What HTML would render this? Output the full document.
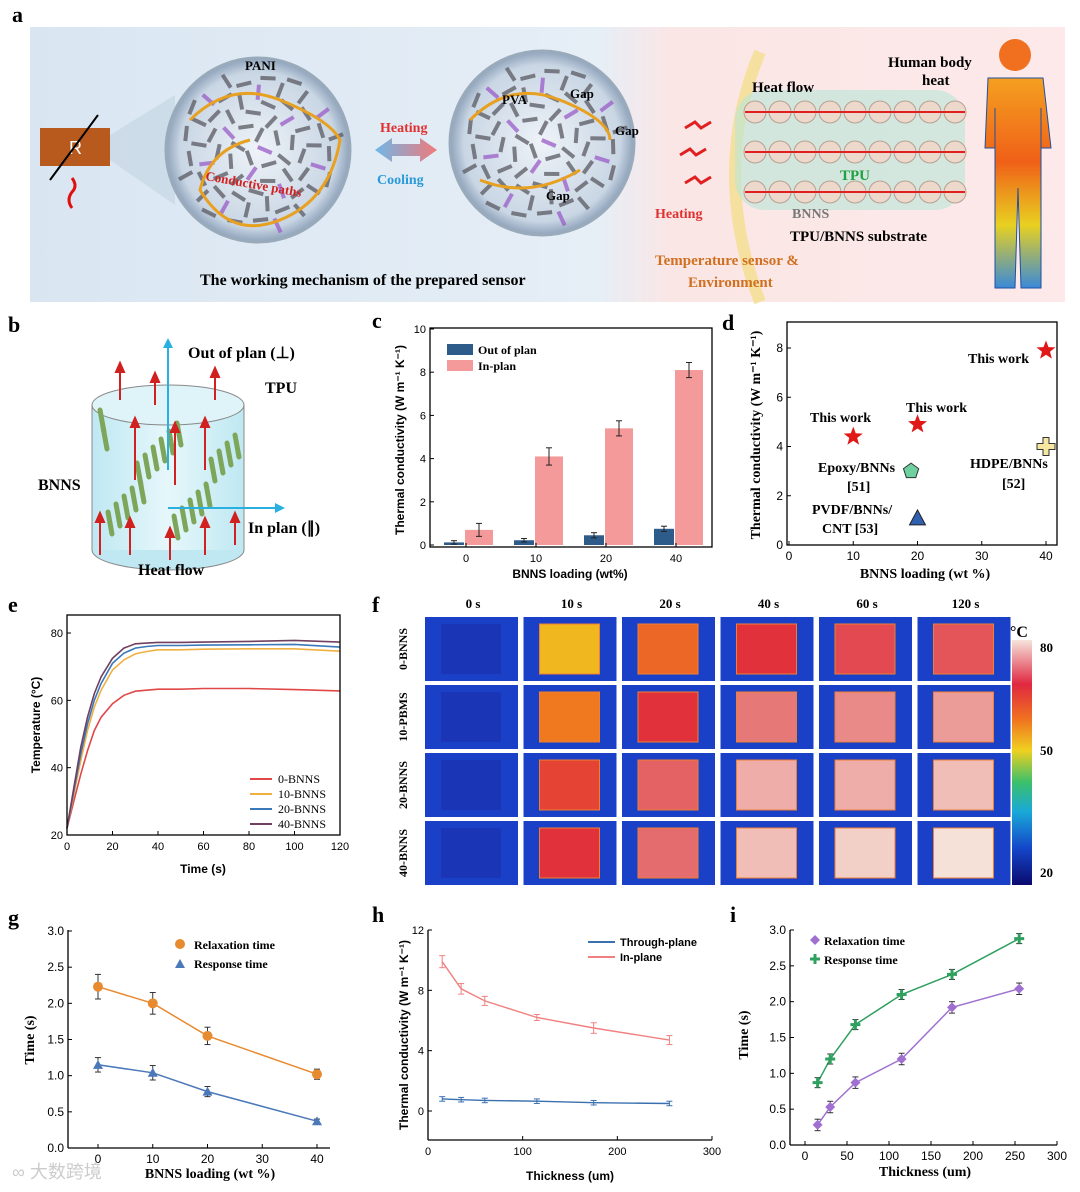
<!DOCTYPE html>
<html><head><meta charset="utf-8">
<style>
html,body{margin:0;padding:0;background:#fff;}
svg{display:block;font-family:"Liberation Sans",sans-serif;}
.ser{font-family:"Liberation Serif",serif;}
</style></head>
<body>
<svg id="fig" width="1080" height="1192" viewBox="0 0 1080 1192" xmlns="http://www.w3.org/2000/svg">
<defs>
<linearGradient id="bgA" x1="0" x2="1"><stop offset="0" stop-color="#d9e6f2"/><stop offset="0.55" stop-color="#e6eef6"/><stop offset="0.62" stop-color="#fbe6e6"/><stop offset="1" stop-color="#fde9e9"/></linearGradient>
<radialGradient id="circ"><stop offset="0" stop-color="#eef3f8"/><stop offset="0.85" stop-color="#c9d6e4"/><stop offset="1" stop-color="#8fa3bb"/></radialGradient>
<linearGradient id="arrG" x1="0" x2="1"><stop offset="0" stop-color="#6fb7e8"/><stop offset="1" stop-color="#f07a7a"/></linearGradient>
<linearGradient id="cbar" x1="0" y1="1" x2="0" y2="0"><stop offset="0" stop-color="#0a0a6e"/><stop offset="0.15" stop-color="#1446c8"/><stop offset="0.3" stop-color="#19a9d8"/><stop offset="0.42" stop-color="#3cc06a"/><stop offset="0.55" stop-color="#f0d020"/><stop offset="0.68" stop-color="#f07020"/><stop offset="0.82" stop-color="#e02840"/><stop offset="1" stop-color="#f6e4dc"/></linearGradient>
<linearGradient id="body" x1="0" y1="0" x2="0" y2="1"><stop offset="0" stop-color="#f4a020"/><stop offset="0.4" stop-color="#f06018"/><stop offset="0.7" stop-color="#e8d020"/><stop offset="1" stop-color="#3a8ad8"/></linearGradient>
<linearGradient id="cyl" x1="0" x2="1"><stop offset="0" stop-color="#bfe8f2"/><stop offset="0.5" stop-color="#e6f7fb"/><stop offset="1" stop-color="#bfe8f2"/></linearGradient>
</defs>

<!-- Panel a -->
<g>
<text x="12" y="22" font-size="22" font-weight="bold" class="ser">a</text>
<rect x="30" y="27" width="1035" height="275" fill="url(#bgA)"/>
<rect x="40" y="128" width="70" height="38" fill="#b85a1e"/>
<text x="69" y="154" font-size="18" fill="#fff">R</text>
<line x1="50" y1="180" x2="98" y2="115" stroke="#000" stroke-width="2"/>
<path d="M72 178 q6 8 0 14 q-6 8 0 16" stroke="#e01010" stroke-width="3" fill="none"/>
<polygon points="110,135 175,95 175,205 110,160" fill="#c9d8e6" opacity="0.8"/>
<circle cx="258" cy="150" r="92" fill="url(#circ)" stroke="#9ab" stroke-width="3"/>
<g id="flakes1"></g>
<path d="M190 120 q40 -40 90 -20 t60 40 q-10 60 -60 80 t-80 -30 q10 -40 50 -50" stroke="#e8a020" stroke-width="3" fill="none"/>
<text x="245" y="70" font-size="13" font-weight="bold" class="ser">PANI</text>
<text x="205" y="180" font-size="13" font-weight="bold" fill="#d02020" class="ser" transform="rotate(10 205 180)">Conductive paths</text>
<circle cx="542" cy="143" r="92" fill="url(#circ)" stroke="#9ab" stroke-width="3"/>
<g id="flakes2"></g>
<path d="M470 120 q40 -40 90 -20 t50 40 M480 180 q50 20 100 -10" stroke="#e8a020" stroke-width="3" fill="none"/>
<text x="502" y="104" font-size="13" font-weight="bold" class="ser">PVA</text>
<text x="570" y="98" font-size="13" font-weight="bold" class="ser">Gap</text>
<text x="615" y="135" font-size="13" font-weight="bold" class="ser">Gap</text>
<text x="546" y="200" font-size="13" font-weight="bold" class="ser">Gap</text>
<polygon points="375,150 392,138 392,144 420,144 420,138 437,150 420,162 420,156 392,156 392,162" fill="url(#arrG)"/>
<text x="380" y="132" font-size="14" font-weight="bold" fill="#e03030" class="ser">Heating</text>
<text x="377" y="184" font-size="14" font-weight="bold" fill="#2a9ad8" class="ser">Cooling</text>
<text x="200" y="285" font-size="16" font-weight="bold" class="ser">The working mechanism of the prepared sensor</text>
<path d="M760 52 q-50 120 0 250" stroke="#f5e0a0" stroke-width="12" fill="none"/>
<rect x="735" y="90" width="230" height="120" rx="30" fill="#b8e6d8" opacity="0.6"/>
<g fill="#ecd9cc" stroke="#b8a090">
<circle cx="755" cy="112" r="11"/><circle cx="780" cy="112" r="11"/><circle cx="805" cy="112" r="11"/><circle cx="830" cy="112" r="11"/><circle cx="855" cy="112" r="11"/><circle cx="880" cy="112" r="11"/><circle cx="905" cy="112" r="11"/><circle cx="930" cy="112" r="11"/><circle cx="955" cy="112" r="11"/>
<circle cx="755" cy="152" r="11"/><circle cx="780" cy="152" r="11"/><circle cx="805" cy="152" r="11"/><circle cx="830" cy="152" r="11"/><circle cx="855" cy="152" r="11"/><circle cx="880" cy="152" r="11"/><circle cx="905" cy="152" r="11"/><circle cx="930" cy="152" r="11"/><circle cx="955" cy="152" r="11"/>
<circle cx="755" cy="192" r="11"/><circle cx="780" cy="192" r="11"/><circle cx="805" cy="192" r="11"/><circle cx="830" cy="192" r="11"/><circle cx="855" cy="192" r="11"/><circle cx="880" cy="192" r="11"/><circle cx="905" cy="192" r="11"/><circle cx="930" cy="192" r="11"/><circle cx="955" cy="192" r="11"/>
</g>
<g stroke="#e02020" stroke-width="2"><line x1="745" y1="112" x2="965" y2="112"/><line x1="745" y1="152" x2="965" y2="152"/><line x1="745" y1="192" x2="965" y2="192"/></g>
<g stroke="#e02020" stroke-width="3" fill="none"><path d="M685 128 l10 -6 l6 6 l10 -6"/><path d="M680 155 l10 -6 l6 6 l10 -6"/><path d="M685 183 l10 -6 l6 6 l10 -6"/></g>
<text x="752" y="92" font-size="15" font-weight="bold" class="ser">Heat flow</text>
<text x="888" y="67" font-size="15" font-weight="bold" class="ser">Human body</text>
<text x="922" y="85" font-size="15" font-weight="bold" class="ser">heat</text>
<text x="840" y="180" font-size="15" font-weight="bold" fill="#20a040" class="ser">TPU</text>
<text x="792" y="218" font-size="14" font-weight="bold" fill="#777" class="ser">BNNS</text>
<text x="790" y="241" font-size="15" font-weight="bold" class="ser">TPU/BNNS substrate</text>
<text x="655" y="218" font-size="14" font-weight="bold" fill="#e03030" class="ser">Heating</text>
<text x="655" y="265" font-size="15" font-weight="bold" fill="#d07020" class="ser">Temperature sensor &amp;</text>
<text x="688" y="287" font-size="15" font-weight="bold" fill="#d07020" class="ser">Environment</text>
<circle cx="1015" cy="55" r="16" fill="#f07020"/>
<path d="M988 78 h55 l8 70 l-10 0 l0 -40 l0 180 h-20 l-3 -100 l-3 100 h-20 l0 -180 l0 40 l-10 0 z" fill="url(#body)" stroke="#2050a0"/>
</g>

<!-- Panel b -->
<g>
<text x="8" y="332" font-size="22" font-weight="bold" class="ser">b</text>
<ellipse cx="168" cy="550" rx="76" ry="20" fill="#bfe8f2" stroke="#888"/>
<rect x="92" y="405" width="152" height="145" fill="url(#cyl)" stroke="none"/>
<line x1="92" y1="405" x2="92" y2="550" stroke="#888"/><line x1="244" y1="405" x2="244" y2="550" stroke="#888"/>
<ellipse cx="168" cy="405" rx="76" ry="20" fill="#dff4f9" stroke="#888"/>
<g stroke="#7da65a" stroke-width="5" stroke-linecap="round" id="bnns"></g>
<line x1="168" y1="470" x2="168" y2="345" stroke="#2ab0e0" stroke-width="2"/><polygon points="163,348 173,348 168,338" fill="#2ab0e0"/>
<line x1="168" y1="508" x2="275" y2="508" stroke="#2ab0e0" stroke-width="2"/><polygon points="275,503 275,513 285,508" fill="#2ab0e0"/>
<g stroke="#d02020" stroke-width="2" fill="#d02020" id="redarr"></g>
<text x="188" y="358" font-size="16" font-weight="bold" class="ser">Out of plan (⊥)</text>
<text x="265" y="393" font-size="16" font-weight="bold" class="ser">TPU</text>
<text x="38" y="490" font-size="16" font-weight="bold" class="ser">BNNS</text>
<text x="248" y="533" font-size="16" font-weight="bold" class="ser">In plan (∥)</text>
<text x="138" y="575" font-size="16" font-weight="bold" class="ser">Heat flow</text>
</g>

<g id="pc"><text x="372" y="328" font-size="22" font-weight="bold" class="ser">c</text></g>
<g id="pd"><text x="722" y="330" font-size="22" font-weight="bold" class="ser">d</text></g>
<g id="pe"><text x="8" y="612" font-size="22" font-weight="bold" class="ser">e</text></g>
<g id="pf"><text x="372" y="612" font-size="22" font-weight="bold" class="ser">f</text></g>
<g id="pg"><text x="8" y="925" font-size="22" font-weight="bold" class="ser">g</text></g>
<g id="ph"><text x="372" y="922" font-size="22" font-weight="bold" class="ser">h</text></g>
<g id="pi"><text x="730" y="922" font-size="22" font-weight="bold" class="ser">i</text></g>
<text x="12" y="1178" font-size="18" fill="#ccc" font-family="'Liberation Sans','Noto Sans CJK SC',sans-serif">∞ 大数跨境</text>
</svg>
<script>
// ---- data ----
const cCats = ['0','10','20','40'];
const cOut = [0.12,0.22,0.45,0.75];
const cOutErr = [0.08,0.08,0.12,0.12];
const cIn = [0.7,4.1,5.4,8.1];
const cInErr = [0.3,0.4,0.35,0.35];
const cTicks = [0,2,4,6,8,10];

const dStarX = [10,20,40];
const dStarY = [4.4,4.9,7.9];
const dPentX = [19]; const dPentY = [3.0];
const dTriX = [20]; const dTriY = [1.1];
const dCrossX = [40]; const dCrossY = [4.0];
const dXTicks = [0,10,20,30,40];
const dYTicks = [0,2,4,6,8];

const eTime = [0,3,6,9,12,15,20,25,30,35,40,50,60,80,100,120];
const e0 = [22,30,38,45,51,55,59,61.5,62.7,63,63.3,63.3,63.5,63.5,63.2,62.8];
const e10 = [22,32,42,51,58,63,69,72,73.8,74.5,75,75,75.2,75.3,75.3,74.6];
const e20 = [22,33,44,53,60,65,71,74,75.5,76,76.3,76.3,76.4,76.5,76.6,75.8];
const e40 = [22,34,46,55,62,67,72.5,75.5,76.8,77,77.2,77.2,77.3,77.5,77.8,77.3];
const eXTicks = [0,20,40,60,80,100,120];
const eYTicks = [20,40,60,80];

const fTimes = ['0 s','10 s','20 s','40 s','60 s','120 s'];
const fRows = ['0-BNNS','10-PBMS','20-BNNS','40-BNNS'];
const fTemps = [[24,52,62,68,70,71],[24,60,68,74,75,76],[24,66,72,77,77,78],[24,68,73,78,79,80]];

const gX = [0,10,20,40];
const gRelax = [2.23,2.0,1.55,1.02];
const gRelaxErr = [0.17,0.15,0.12,0.07];
const gResp = [1.15,1.04,0.78,0.37];
const gRespErr = [0.1,0.1,0.07,0.03];
const gXTicks = [0,10,20,30,40];
const gYTicks = [0,0.5,1.0,1.5,2.0,2.5,3.0];

const hX = [15,35,60,115,175,255];
const hIn = [9.9,8.1,7.3,6.2,5.5,4.7];
const hInErr = [0.4,0.35,0.3,0.2,0.35,0.3];
const hThr = [0.8,0.75,0.7,0.65,0.55,0.5];
const hXTicks = [0,100,200,300];
const hYTicks = [0,4,8,12];

const iX = [15,30,60,115,175,255];
const iRelax = [0.28,0.53,0.87,1.2,1.92,2.18];
const iResp = [0.87,1.2,1.68,2.1,2.38,2.88];
const iXTicks = [0,50,100,150,200,250,300];
const iYTicks = [0,0.5,1.0,1.5,2.0,2.5,3.0];

const NS='http://www.w3.org/2000/svg';
function mk(parent,tag,attrs,txt){const e=document.createElementNS(NS,tag);for(const k in attrs)e.setAttribute(k,attrs[k]);if(txt!==undefined)e.textContent=txt;parent.appendChild(e);return e;}
function lin(d0,d1,r0,r1){return v=>r0+(v-d0)*(r1-r0)/(d1-d0);}

// panel a flakes
[['flakes1',258,150],['flakes2',542,143]].forEach(f=>{const g=document.getElementById(f[0]);
for(let k=0;k<70;k++){const a=k*2.39996,r=80*Math.sqrt((k+0.5)/70);const x=f[1]+r*Math.cos(a),y=f[2]+r*Math.sin(a);
const col=k%6===0?'#9a5cc8':'#5a5a62';
const l=mk(g,'line',{x1:x-7,y1:y-3,x2:x+7,y2:y+3,stroke:col,'stroke-width':4,opacity:0.75,transform:`rotate(${(k*47)%180} ${x} ${y})`});

}});

// panel b decorations
(function(){const g=document.getElementById('bnns');
for(let i=0;i<22;i++){const x=100+(i*37)%140, y=410+(i*53)%110; const l=mk(g,'line',{x1:x,y1:y,x2:x+4,y2:y+22});

}
const r=document.getElementById('redarr');
[[120,365,400],[155,375,405],[215,370,400],[135,420,480],[175,425,485],[205,420,470],[100,515,555],[130,520,555],[170,530,560],[205,520,555],[235,515,545]].forEach(a=>{
mk(r,'line',{x1:a[0],y1:a[2],x2:a[0],y2:a[1]+6});
const p=mk(r,'polygon',{points:`${a[0]-4},${a[1]+7} ${a[0]+4},${a[1]+7} ${a[0]},${a[1]-2}`});

});})();

function axesBox(g,x0,y0,x1,y1){mk(g,'rect',{x:x0,y:y0,width:x1-x0,height:y1-y0,fill:'none',stroke:'#000','stroke-width':1.3});}
function yTicks(g,ticks,ys,x0,fmt,fs){ticks.forEach(t=>{const y=ys(t);mk(g,'line',{x1:x0,y1:y,x2:x0+4,y2:y,stroke:'#000'});
const tx=mk(g,'text',{x:x0-4,y:y+4,'font-size':fs||11,'text-anchor':'end'},fmt?fmt(t):t);

});}
function xTicks(g,ticks,xs,y0,fs){ticks.forEach(t=>{const x=xs(t);mk(g,'line',{x1:x,y1:y0,x2:x,y2:y0-4,stroke:'#000'});
const tx=mk(g,'text',{x:x,y:y0+15,'font-size':fs||11,'text-anchor':'middle'},t);

});}
function err(g,x,y1,y2,c){mk(g,'line',{x1:x,y1:y1,x2:x,y2:y2,stroke:c});mk(g,'line',{x1:x-3,y1:y1,x2:x+3,y2:y1,stroke:c});mk(g,'line',{x1:x-3,y1:y2,x2:x+3,y2:y2,stroke:c});}
function path(g,xs,ys,X,Y,c,w,name){const d=X.map((v,i)=>(i?'L':'M')+xs(v).toFixed(1)+' '+ys(Y[i]).toFixed(1)).join(' ');const p=mk(g,'path',{d:d,stroke:c,'stroke-width':w||1.5,fill:'none'});

return p;}

// ---- panel c ----
(function(){const g=document.getElementById('pc');const X0=430,X1=712,Y0=328,Y1=547;
const ys=lin(0,10,545,329);const catX=i=>466+i*70;
cCats.forEach((c,i)=>{const cx=catX(i);
const b1=mk(g,'rect',{x:cx-22,y:ys(cOut[i]),width:20,height:ys(0)-ys(cOut[i]),fill:'#2e5c8a'});


err(g,cx-12,ys(cOut[i]+cOutErr[i]),ys(cOut[i]-cOutErr[i]),'#222');
const b2=mk(g,'rect',{x:cx-1,y:ys(cIn[i]),width:28,height:ys(0)-ys(cIn[i]),fill:'#f59a9a'});


err(g,cx+13,ys(cIn[i]+cInErr[i]),ys(cIn[i]-cInErr[i]),'#222');
mk(g,'line',{x1:cx,y1:Y1,x2:cx,y2:Y1-4,stroke:'#000'});
mk(g,'text',{x:cx,y:Y1+15,'font-size':11,'text-anchor':'middle'},c);});
axesBox(g,X0,Y0,X1,Y1);yTicks(g,cTicks,ys,X0);
mk(g,'text',{x:570,y:578,'font-size':12,'font-weight':'bold','text-anchor':'middle'},'BNNS loading (wt%)');
mk(g,'text',{x:404,y:440,'font-size':12,'font-weight':'bold','text-anchor':'middle',transform:'rotate(-90 404 440)'},'Thermal conductivity (W m⁻¹ K⁻¹)');
mk(g,'rect',{x:447,y:344,width:26,height:11,fill:'#2e5c8a'});mk(g,'rect',{x:447,y:360,width:26,height:11,fill:'#f59a9a'});
mk(g,'text',{x:478,y:354,'font-size':12,'font-weight':'bold',class:'ser'},'Out of plan');
mk(g,'text',{x:478,y:370,'font-size':12,'font-weight':'bold',class:'ser'},'In-plan');})();

// ---- panel d ----
(function(){const g=document.getElementById('pd');const X0=787,X1=1057,Y0=322,Y1=545;
const xs=lin(0,40,789,1046),ys=lin(0,8,545,348);axesBox(g,X0,Y0,X1,Y1);
xTicks(g,dXTicks,xs,Y1,12);yTicks(g,dYTicks,ys,X0,null,12);
function star(x,y,r){let p=[];for(let k=0;k<10;k++){const a=-Math.PI/2+k*Math.PI/5,rr=k%2?r*0.42:r;p.push((x+rr*Math.cos(a)).toFixed(1)+','+(y+rr*Math.sin(a)).toFixed(1));}return p.join(' ');}
dStarX.forEach((v,i)=>{const s=mk(g,'polygon',{points:star(xs(v),ys(dStarY[i]),10),fill:'#e01818'});

});
dPentX.forEach((v,i)=>{const x=xs(v),y=ys(dPentY[i]);let p=[];for(let k=0;k<5;k++){const a=-Math.PI/2+k*2*Math.PI/5;p.push((x+8*Math.cos(a))+','+(y+8*Math.sin(a)));}
const s=mk(g,'polygon',{points:p.join(' '),fill:'#6fd0a0',stroke:'#333'});

});
dTriX.forEach((v,i)=>{const x=xs(v),y=ys(dTriY[i]);const s=mk(g,'polygon',{points:`${x-8},${y+7} ${x+8},${y+7} ${x},${y-8}`,fill:'#3060b0',stroke:'#222'});

});
dCrossX.forEach((v,i)=>{const x=xs(v),y=ys(dCrossY[i]);const s=mk(g,'path',{d:`M${x-3},${y-9}h6v6h6v6h-6v6h-6v-6h-6v-6h6z`,fill:'#f5e7a0',stroke:'#333'});

});
[['This work',968,363],['This work',810,422],['This work',906,412],['Epoxy/BNNs',818,472],['[51]',847,491],['HDPE/BNNs',970,468],['[52]',1002,488],['PVDF/BNNs/',812,514],['CNT [53]',822,533]].forEach(t=>mk(g,'text',{x:t[1],y:t[2],'font-size':14,'font-weight':'bold',class:'ser'},t[0]));
mk(g,'text',{x:925,y:578,'font-size':14,'font-weight':'bold','text-anchor':'middle',class:'ser'},'BNNS loading (wt %)');
mk(g,'text',{x:760,y:435,'font-size':14,'font-weight':'bold','text-anchor':'middle',class:'ser',transform:'rotate(-90 760 435)'},'Thermal conductivity (W m⁻¹ K⁻¹)');})();

// ---- panel e ----
(function(){const g=document.getElementById('pe');const X0=67,X1=340,Y0=615,Y1=835;
const xs=lin(0,120,67,340),ys=lin(20,80,835,633);
const cols=['#e04848','#f0b040','#3a78b8','#704060'];const names=['0-BNNS','10-BNNS','20-BNNS','40-BNNS'];
[e0,e10,e20,e40].forEach((s,i)=>path(g,xs,ys,eTime,s,cols[i],1.6,'line-'+names[i]));
axesBox(g,X0,Y0,X1,Y1);xTicks(g,eXTicks,xs,Y1);yTicks(g,eYTicks,ys,X0);
names.forEach((n,i)=>{mk(g,'line',{x1:250,y1:779+i*15,x2:272,y2:779+i*15,stroke:cols[i],'stroke-width':2});mk(g,'text',{x:278,y:783+i*15,'font-size':12,class:'ser'},n);});
mk(g,'text',{x:203,y:873,'font-size':12,'font-weight':'bold','text-anchor':'middle'},'Time (s)');
mk(g,'text',{x:40,y:725,'font-size':12,'font-weight':'bold','text-anchor':'middle',transform:'rotate(-90 40 725)'},'Temperature (°C)');})();

// ---- panel f ----
(function(){const g=document.getElementById('pf');
function tcol(t){const s=[[20,[20,40,170]],[26,[30,60,190]],[50,[240,200,30]],[60,[240,120,30]],[68,[225,50,60]],[74,[230,120,120]],[80,[245,225,215]]];
for(let i=1;i<s.length;i++){if(t<=s[i][0]){const a=s[i-1],b=s[i],f=(t-a[0])/(b[0]-a[0]);return 'rgb('+a[1].map((c,k)=>Math.round(c+(b[1][k]-c)*f)).join(',')+')';}}return 'rgb(245,225,215)';}
fTimes.forEach((t,j)=>mk(g,'text',{x:473+j*98.5,y:608,'font-size':13,'font-weight':'bold','text-anchor':'middle',class:'ser'},t));
fRows.forEach((r,i)=>{const y=617+i*68;mk(g,'text',{x:407,y:y+32,'font-size':12,'font-weight':'bold','text-anchor':'middle',class:'ser',transform:`rotate(-90 407 ${y+32})`},r);
fTemps[i].forEach((v,j)=>{const x=425+j*98.5;
mk(g,'rect',{x:x,y:y,width:93,height:64,fill:'#1a40c8'});
const c=mk(g,'rect',{x:x+16,y:y+7,width:60,height:50,fill:tcol(v),stroke:j?'#f08030':'none'});

});});
mk(g,'rect',{x:1012,y:640,width:20,height:245,fill:'url(#cbar)'});
mk(g,'text',{x:1010,y:637,'font-size':16,'font-weight':'bold',class:'ser'},'°C');
[['80',652],['50',755],['20',877]].forEach(t=>mk(g,'text',{x:1040,y:t[1],'font-size':13,'font-weight':'bold',class:'ser'},t[0]));})();

// ---- panel g ----
(function(){const g=document.getElementById('pg');const X0=68,X1=330,Y0=930,Y1=1148;
const xs=lin(0,40,98,317),ys=lin(0,3,1148,931);
path(g,xs,ys,gX,gRelax,'#e88a30',1.5,'relaxation-line');path(g,xs,ys,gX,gResp,'#4a78b8',1.5,'response-line');
gX.forEach((v,i)=>{err(g,xs(v),ys(gRelax[i]+gRelaxErr[i]),ys(gRelax[i]-gRelaxErr[i]),'#333');err(g,xs(v),ys(gResp[i]+gRespErr[i]),ys(gResp[i]-gRespErr[i]),'#333');
const a=mk(g,'circle',{cx:xs(v),cy:ys(gRelax[i]),r:5,fill:'#e88a30'});


const x=xs(v),y=ys(gResp[i]);const b=mk(g,'polygon',{points:`${x-5},${y+4} ${x+5},${y+4} ${x},${y-5}`,fill:'#4a78b8'});

});
mk(g,'line',{x1:X0,y1:Y0,x2:X0,y2:Y1,stroke:'#000','stroke-width':1.3});mk(g,'line',{x1:X0,y1:Y1,x2:X1,y2:Y1,stroke:'#000','stroke-width':1.3});
xTicks(g,gXTicks,xs,Y1,12);yTicks(g,gYTicks,ys,X0,t=>t.toFixed(1),12);
mk(g,'circle',{cx:180,cy:944,r:5,fill:'#e88a30'});mk(g,'polygon',{points:'175,968 185,968 180,959',fill:'#4a78b8'});
mk(g,'text',{x:194,y:949,'font-size':12,'font-weight':'bold',class:'ser'},'Relaxation time');
mk(g,'text',{x:194,y:968,'font-size':12,'font-weight':'bold',class:'ser'},'Response time');
mk(g,'text',{x:210,y:1178,'font-size':14,'font-weight':'bold','text-anchor':'middle',class:'ser'},'BNNS loading (wt %)');
mk(g,'text',{x:34,y:1040,'font-size':14,'font-weight':'bold','text-anchor':'middle',class:'ser',transform:'rotate(-90 34 1040)'},'Time (s)');})();

// ---- panel h ----
(function(){const g=document.getElementById('ph');const X0=428,X1=712,Y0=930,Y1=1140;
const xs=lin(0,300,428,712),ys=lin(0,12,1111,930);
path(g,xs,ys,hX,hIn,'#f08080',1.4,'in-plane-line');path(g,xs,ys,hX,hThr,'#3a70b0',1.4,'through-plane-line');
hX.forEach((v,i)=>{err(g,xs(v),ys(hIn[i]+hInErr[i]),ys(hIn[i]-hInErr[i]),'#f08080');err(g,xs(v),ys(hThr[i]+0.15),ys(hThr[i]-0.15),'#3a70b0');});
mk(g,'line',{x1:X0,y1:Y0,x2:X0,y2:Y1,stroke:'#000','stroke-width':1.3});mk(g,'line',{x1:X0,y1:Y1,x2:X1,y2:Y1,stroke:'#000','stroke-width':1.3});
xTicks(g,hXTicks,xs,Y1);yTicks(g,hYTicks,ys,X0);
mk(g,'line',{x1:588,y1:942,x2:615,y2:942,stroke:'#3a70b0','stroke-width':2});mk(g,'line',{x1:588,y1:957,x2:615,y2:957,stroke:'#f08080','stroke-width':2});
mk(g,'text',{x:620,y:946,'font-size':11,'font-weight':'bold'},'Through-plane');mk(g,'text',{x:620,y:961,'font-size':11,'font-weight':'bold'},'In-plane');
mk(g,'text',{x:570,y:1180,'font-size':12,'font-weight':'bold','text-anchor':'middle'},'Thickness (um)');
mk(g,'text',{x:408,y:1035,'font-size':12,'font-weight':'bold','text-anchor':'middle',transform:'rotate(-90 408 1035)'},'Thermal conductivity (W m⁻¹ K⁻¹)');})();

// ---- panel i ----
(function(){const g=document.getElementById('pi');const X0=790,X1=1057,Y0=930,Y1=1145;
const xs=lin(0,300,805,1057),ys=lin(0,3,1145,930);
path(g,xs,ys,iX,iRelax,'#a070d0',1.5,'relaxation-line');path(g,xs,ys,iX,iResp,'#30a060',1.5,'response-line');
iX.forEach((v,i)=>{err(g,xs(v),ys(iRelax[i]+0.08),ys(iRelax[i]-0.08),'#333');err(g,xs(v),ys(iResp[i]+0.07),ys(iResp[i]-0.07),'#333');
const x=xs(v),y=ys(iRelax[i]);const a=mk(g,'polygon',{points:`${x},${y-5} ${x+5},${y} ${x},${y+5} ${x-5},${y}`,fill:'#a070d0'});


const y2=ys(iResp[i]);const b=mk(g,'path',{d:`M${x-1.5},${y2-5}h3v3.5h3.5v3h-3.5v3.5h-3v-3.5h-3.5v-3h3.5z`,fill:'#30a060'});

});
mk(g,'line',{x1:X0,y1:Y0,x2:X0,y2:Y1,stroke:'#000','stroke-width':1.3});mk(g,'line',{x1:X0,y1:Y1,x2:X1,y2:Y1,stroke:'#000','stroke-width':1.3});
xTicks(g,iXTicks,xs,Y1,12);yTicks(g,iYTicks,ys,X0,t=>t.toFixed(1),12);
mk(g,'polygon',{points:'815,935 820,940 815,945 810,940',fill:'#a070d0'});mk(g,'path',{d:'M813.5,954h3v3.5h3.5v3h-3.5v3.5h-3v-3.5h-3.5v-3h3.5z',fill:'#30a060'});
mk(g,'text',{x:824,y:945,'font-size':12,'font-weight':'bold',class:'ser'},'Relaxation time');
mk(g,'text',{x:824,y:964,'font-size':12,'font-weight':'bold',class:'ser'},'Response time');
mk(g,'text',{x:925,y:1176,'font-size':14,'font-weight':'bold','text-anchor':'middle',class:'ser'},'Thickness (um)');
mk(g,'text',{x:748,y:1035,'font-size':14,'font-weight':'bold','text-anchor':'middle',class:'ser',transform:'rotate(-90 748 1035)'},'Time (s)');})();
</script>
</body></html>
